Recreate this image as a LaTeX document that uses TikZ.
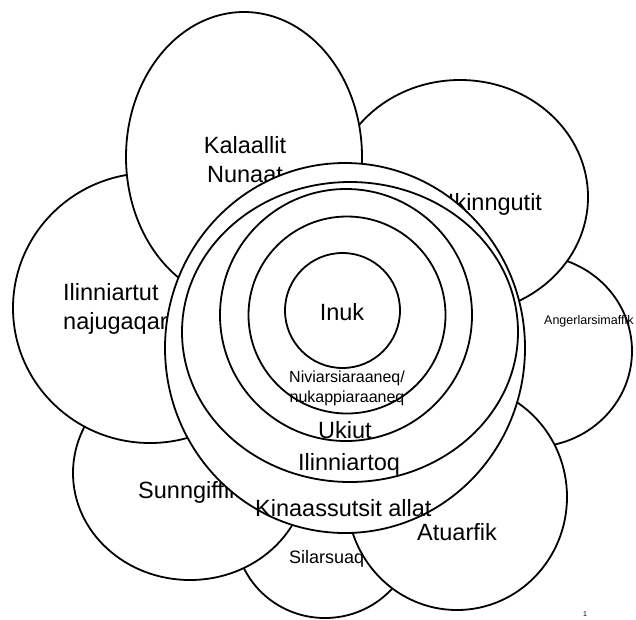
\documentclass[tikz,border=0pt]{standalone}
\usepackage{fontspec}
\setmainfont{Liberation Sans}
\usetikzlibrary{shapes.geometric}
\begin{document}
\begin{tikzpicture}[x=1pt, y=-1pt]
	\tikzset{
		petal/.style={ellipse, draw, fill=white, line width=1.8pt, inner sep=0pt},
		ring/.style={ellipse, draw, fill=white, line width=1.8pt, inner sep=0pt},
		big label/.style={font=\fontsize{23.5}{29}\selectfont, inner sep=0pt, align=center},
		mid label/.style={font=\fontsize{18}{21}\selectfont, inner sep=0pt},
		small label/.style={font=\fontsize{16}{20}\selectfont, inner sep=0pt, align=center},
		tiny label/.style={font=\fontsize{12.5}{15}\selectfont, inner sep=0pt}
	}
	\useasboundingbox (0,0) rectangle (636,619);
	% Petals, lowest first
	\foreach \name/\cx/\cy/\rx/\ry in {silarsuaq/325/530/90/88, angerlarsimaffik/532/351/100/96,
		sunngiffik/190/473/117/107, atuarfik/457/497/110/113, ikinngutit/460/197/128/117,
		ilinniartut/150/308/137/135, kalaallit/244/157/118/145} {
		\node (\name) at (\cx,\cy) [petal, minimum width=2*\rx pt, minimum height=2*\ry pt] {};
	}
	\node (kalaallit text) at (245,160) [big label] {Kalaallit\\Nunaat};
	\node (ikinngutit text) at (495,204) [big label] {Ikinngutit};
	\node (ilinniartut text) at (63,309) [big label, anchor=west, align=left] {Ilinniartut\\najugaqarfiat};
	\node (angerlarsimaffik text) at (544,321) [tiny label, anchor=west] {Angerlarsimaffik};
	\node (sunngiffik text) at (138,492) [big label, anchor=west] {Sunngiffik};
	\node (silarsuaq text) at (289,559) [mid label, anchor=west] {Silarsuaq};
	\node (atuarfik text) at (457,532) [big label] {Atuarfik};
	
	% Rings round Inuk, outermost first
	\foreach \name/\cx/\cy/\rx/\ry in {allat/345/348/180/185, ilinniartoq/350/332/168/150,
		ukiut/346/315/126/126, meeraq/347/315/98.5/98.5, inuk/342.5/310.5/57.5/57.5} {
		\node (\name) at (\cx,\cy) [ring, minimum width=2*\rx pt, minimum height=2*\ry pt] {};
	}
	\node (inuk text) at (342,312) [big label] {Inuk};
	\node (meeraq text) at (347,388) [small label] {Niviarsiaraaneq/\\nukappiaraaneq};
	\node (ukiut text) at (345,430) [big label] {Ukiut};
	\node (ilinniartoq text) at (349,464) [big label] {Ilinniartoq};
	\node (allat text) at (255,508) [big label, anchor=west] {Kinaassutsit allat};
	
	\node (page) at (585,614) [font=\fontsize{7}{8}\selectfont, inner sep=0pt] {1};
\end{tikzpicture}
\end{document}
